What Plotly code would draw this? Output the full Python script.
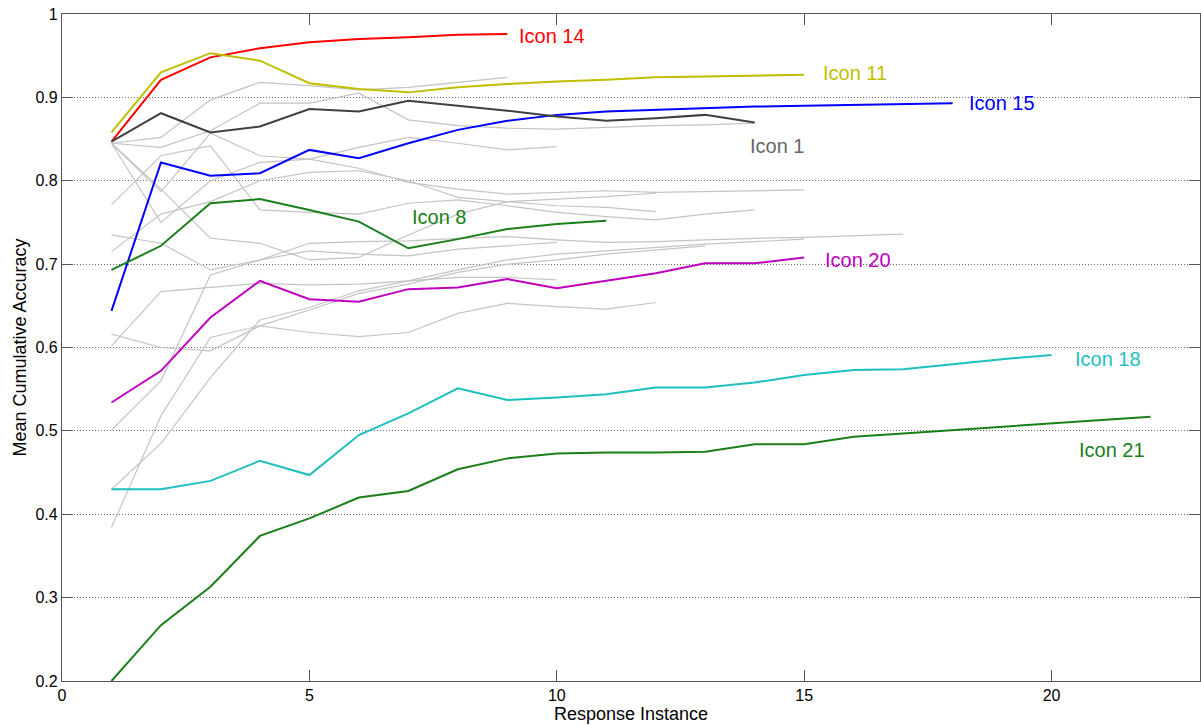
import plotly.graph_objects as go

# Mean cumulative accuracy per response instance, one list per icon
background_icons = [
    [0.845, 0.852, 0.897, 0.918, 0.914, 0.909, 0.912, 0.918, 0.924],
    [0.845, 0.840, 0.860, 0.893, 0.893, 0.905, 0.873, 0.866, 0.863, 0.862, 0.864, 0.866, 0.867, 0.869],
    [0.845, 0.787, 0.857, 0.830, 0.826, 0.840, 0.852, 0.845, 0.837, 0.841],
    [0.845, 0.750, 0.800, 0.822, 0.826, 0.815, 0.798, 0.790, 0.784, 0.786, 0.788, 0.786, 0.787, 0.788, 0.789],
    [0.845, 0.790, 0.731, 0.725, 0.705, 0.708, 0.735, 0.760, 0.775, 0.778, 0.781, 0.785],
    [0.771, 0.830, 0.842, 0.765, 0.762, 0.760, 0.773, 0.777, 0.770, 0.762, 0.757, 0.753, 0.760, 0.765],
    [0.501, 0.560, 0.687, 0.705, 0.725, 0.727, 0.728, 0.731, 0.733, 0.729, 0.726, 0.727, 0.729, 0.731, 0.732, 0.734, 0.736],
    [0.735, 0.725, 0.693, 0.705, 0.716, 0.712, 0.710, 0.718, 0.722, 0.726],
    [0.715, 0.760, 0.775, 0.800, 0.810, 0.812, 0.800, 0.780, 0.775, 0.770, 0.768, 0.763],
    [0.616, 0.600, 0.596, 0.626, 0.618, 0.613, 0.618, 0.641, 0.653, 0.649, 0.646, 0.654],
    [0.602, 0.667, 0.672, 0.677, 0.675, 0.676, 0.680, 0.684, 0.684, 0.681],
    [0.384, 0.518, 0.612, 0.626, 0.645, 0.665, 0.676, 0.690, 0.700, 0.705, 0.712, 0.717, 0.722],
    [0.430, 0.485, 0.564, 0.633, 0.648, 0.668, 0.680, 0.693, 0.705, 0.712, 0.716, 0.720, 0.724, 0.727, 0.730],
]

icon_14 = [0.847, 0.921, 0.948, 0.959, 0.966, 0.970, 0.972, 0.975, 0.976]
icon_11 = [0.858, 0.930, 0.953, 0.944, 0.917, 0.910, 0.906, 0.912, 0.916, 0.919,
           0.921, 0.924, 0.925, 0.926, 0.927]
icon_15 = [0.644, 0.822, 0.806, 0.809, 0.837, 0.827, 0.845, 0.861, 0.872, 0.879,
           0.883, 0.885, 0.887, 0.889, 0.890, 0.891, 0.892, 0.893]
icon_1 = [0.847, 0.881, 0.858, 0.865, 0.886, 0.883, 0.896, 0.890, 0.884, 0.877,
          0.872, 0.875, 0.879, 0.870]
icon_8 = [0.693, 0.722, 0.773, 0.778, 0.765, 0.751, 0.719, 0.730, 0.742, 0.748, 0.752]
icon_20 = [0.534, 0.572, 0.636, 0.680, 0.658, 0.655, 0.670, 0.672, 0.682, 0.671,
           0.680, 0.689, 0.701, 0.701, 0.708]
icon_18 = [0.430, 0.430, 0.440, 0.464, 0.447, 0.495, 0.521, 0.551, 0.537, 0.540,
           0.544, 0.552, 0.552, 0.558, 0.567, 0.573, 0.574, 0.580, 0.586, 0.591]
icon_21 = [0.200, 0.267, 0.313, 0.374, 0.395, 0.420, 0.428, 0.454, 0.467, 0.473,
           0.474, 0.474, 0.475, 0.484, 0.484, 0.493, 0.497, 0.501, 0.505, 0.509,
           0.513, 0.517]

# name, values, line colour, label colour, label anchor (x, y)
highlighted = [
    ("Icon 14", icon_14, "#ff0000", "#ff0000", 9.19, 0.974),
    ("Icon 11", icon_11, "#bfbf00", "#bfbf00", 15.34, 0.929),
    ("Icon 15", icon_15, "#0000ff", "#0000ff", 18.29, 0.893),
    ("Icon 1", icon_1, "#404040", "#666666", 13.87, 0.842),
    ("Icon 8", icon_8, "#1a7f1a", "#1a7f1a", 7.04, 0.756),
    ("Icon 20", icon_20, "#bf00bf", "#bf00bf", 15.39, 0.705),
    ("Icon 18", icon_18, "#1fbfbf", "#1fbfbf", 20.44, 0.586),
    ("Icon 21", icon_21, "#1a7f1a", "#1a7f1a", 20.51, 0.477),
]

FONT = "Liberation Sans, Arial, sans-serif"

fig = go.Figure()

for vals in background_icons:
    fig.add_trace(go.Scatter(
        x=list(range(1, len(vals) + 1)), y=vals, mode="lines",
        line=dict(color="#c4c4c4", width=1.2), hoverinfo="skip", showlegend=False,
    ))

for name, vals, color, label_color, lx, ly in highlighted:
    fig.add_trace(go.Scatter(
        x=list(range(1, len(vals) + 1)), y=vals, mode="lines", name=name,
        line=dict(color=color, width=2), showlegend=False,
    ))
    fig.add_annotation(
        x=lx, y=ly, xref="x", yref="y", text=name, showarrow=False,
        xanchor="left", yanchor="middle",
        font=dict(family=FONT, size=20, color=label_color),
    )

axis_common = dict(
    showline=True, linecolor="#555555", linewidth=1.2, mirror="allticks",
    ticks="inside", ticklen=11, tickcolor="#555555", tickwidth=1.2,
    tickfont=dict(family=FONT, size=16, color="#000000"),
    zeroline=False,
)

fig.update_layout(
    width=1201, height=725,
    margin=dict(l=62, r=1, t=14, b=44),
    paper_bgcolor="#ffffff", plot_bgcolor="#ffffff",
    xaxis=dict(
        range=[0, 23], tickvals=[0, 5, 10, 15, 20], showgrid=False,
        title=dict(text="Response Instance", font=dict(family=FONT, size=18, color="#000000"),
                   standoff=2),
        **axis_common,
    ),
    yaxis=dict(
        range=[0.2, 1.0], tickvals=[0.2, 0.3, 0.4, 0.5, 0.6, 0.7, 0.8, 0.9, 1.0],
        ticktext=["0.2", "0.3", "0.4", "0.5", "0.6", "0.7", "0.8", "0.9", "1"],
        showgrid=True, gridcolor="#666666", griddash="1px,2px", gridwidth=1,
        title=dict(text="Mean Cumulative Accuracy", font=dict(family=FONT, size=18, color="#000000"),
                   standoff=4),
        **axis_common,
    ),
)

fig.write_html("out.html")
